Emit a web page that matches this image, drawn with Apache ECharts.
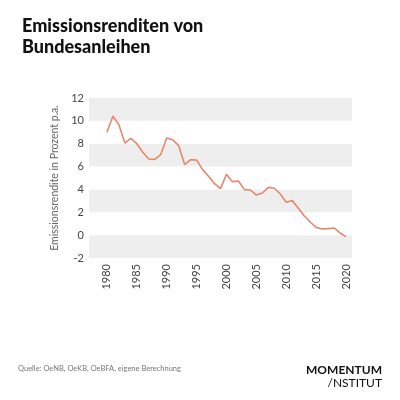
<!DOCTYPE html>
<html>
<head>
<meta charset="utf-8">
<script src="https://cdn.jsdelivr.net/npm/echarts@6/dist/echarts.min.js"></script>
<style>html,body{margin:0;padding:0;background:#fff}#c{width:400px;height:400px}</style>
</head>
<body>
<div id="c"></div>
<script>
const years = [1980,1981,1982,1983,1984,1985,1986,1987,1988,1989,1990,1991,1992,1993,1994,1995,1996,1997,1998,1999,2000,2001,2002,2003,2004,2005,2006,2007,2008,2009,2010,2011,2012,2013,2014,2015,2016,2017,2018,2019,2020];
const yields = [9.0,10.4,9.67,8.06,8.47,8.0,7.25,6.66,6.63,7.04,8.5,8.35,7.83,6.17,6.6,6.58,5.73,5.15,4.5,4.07,5.33,4.68,4.74,3.98,3.95,3.51,3.69,4.18,4.1,3.6,2.87,3.02,2.38,1.7,1.15,0.68,0.54,0.57,0.63,0.19,-0.13];
const xLabelYears = [1980,1985,1990,1995,2000,2005,2010,2015,2020];
const yTicks = [-2,0,2,4,6,8,10,12];

const chart = echarts.init(document.getElementById('c'), null, {renderer:'canvas'});
chart.setOption({
  backgroundColor:'#fff',
  animation:false,
  title:{
    text:'Emissionsrenditen von\nBundesanleihen',
    left:17, top:11,
    textStyle:{fontFamily:'Lato', fontWeight:900, fontSize:18, lineHeight:21, color:'#111'}
  },
  grid:{left:89, right:48, top:98, bottom:142, containLabel:false},
  xAxis:{
    type:'value', min:1977, max:2021, interval:1,
    axisLine:{show:false}, axisTick:{show:false}, splitLine:{show:false},
    axisLabel:{
      rotate:90, margin:6, color:'#444', fontFamily:'Lato', fontSize:11,
      formatter:function(v){return xLabelYears.indexOf(v)>=0 ? String(v) : '';}
    }
  },
  yAxis:{
    type:'value', min:yTicks[0], max:yTicks[yTicks.length-1], interval:2,
    name:'Emissionsrendite in Prozent p.a.', nameLocation:'middle', nameGap:27, nameRotate:90,
    nameTextStyle:{color:'#666', fontFamily:'Lato', fontSize:10.5},
    axisLine:{show:false}, axisTick:{show:false}, splitLine:{show:false},
    splitArea:{show:true, areaStyle:{color:['#efeeee','#ffffff']}},
    axisLabel:{color:'#444', fontFamily:'Lato', fontSize:11, margin:5}
  },
  series:[{
    type:'line',
    data:years.map((y,i)=>[y,yields[i]]),
    showSymbol:false,
    lineStyle:{color:'#e8866c', width:1.6},
    itemStyle:{color:'#e8866c'}
  }],
  graphic:[
    {type:'text', left:18, top:365, style:{text:'Quelle: OeNB, OeKB, OeBFA, eigene Berechnung', fill:'#777', font:'7.5px Lato'}},
    {type:'text', right:18, top:364, style:{text:'MOMENTUM', fill:'#111', font:'bold 12px Lato', textAlign:'right'}},
    {type:'text', right:18, top:377, style:{text:'/NSTITUT', fill:'#111', font:'12px Lato', textAlign:'right'}}
  ]
});
</script>
</body>
</html>
